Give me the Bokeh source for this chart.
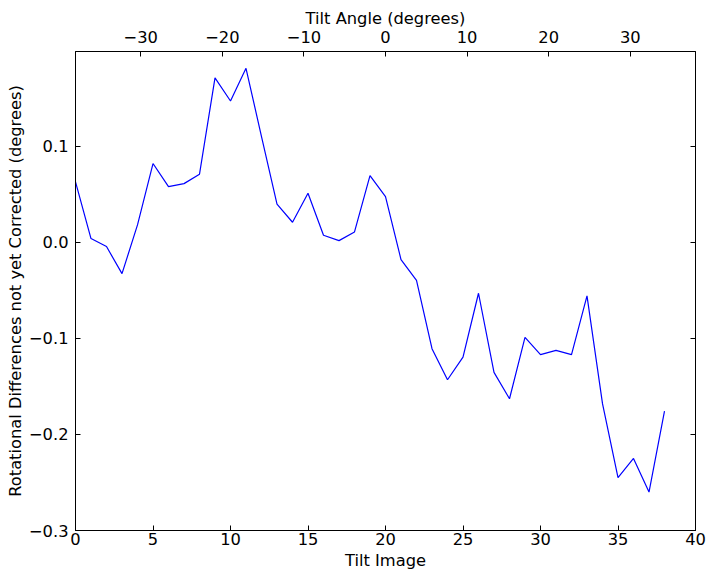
from bokeh.plotting import figure
from bokeh.models import LinearAxis, Range1d, FixedTicker
from bokeh.embed import file_html
from bokeh.resources import INLINE

# Data
tilt_image = list(range(39))
rot_diff = [0.0628, 0.0038, -0.0045, -0.0327, 0.018, 0.0819, 0.0579, 0.061, 0.0708, 0.171,
            0.147, 0.181, 0.110, 0.0396, 0.0208, 0.051, 0.0073, 0.0017, 0.0107, 0.0694,
            0.0475, -0.018, -0.0396, -0.1108, -0.1431, -0.1195, -0.0531, -0.1354, -0.1629, -0.099,
            -0.117, -0.1125, -0.117, -0.0559, -0.168, -0.245, -0.225, -0.260, -0.1757]

x_ticks = [0, 5, 10, 15, 20, 25, 30, 35, 40]
x_tick_labels = ["0", "5", "10", "15", "20", "25", "30", "35", "40"]
y_ticks = [-0.3, -0.2, -0.1, 0.0, 0.1]
y_tick_labels = ["\u22120.3", "\u22120.2", "\u22120.1", "0.0", "0.1"]
angle_ticks = [-30, -20, -10, 0, 10, 20, 30]
angle_tick_labels = ["\u221230", "\u221220", "\u221210", "0", "10", "20", "30"]

FONT = "DejaVu Sans"
FS = "16.3px"

p = figure(width=710, height=575, output_backend="svg", toolbar_location=None,
           x_range=Range1d(0, 40), y_range=Range1d(-0.3, 0.1985),
           min_border_left=75, min_border_right=15, min_border_top=51, min_border_bottom=45,
           x_axis_location=None, y_axis_location=None)
p.extra_x_ranges = {"angle": Range1d(-38, 38)}
p.xgrid.visible = False
p.ygrid.visible = False
p.outline_line_color = "black"
p.outline_line_width = 1
p.background_fill_color = "white"
p.border_fill_color = "white"

p.line(tilt_image, rot_diff, line_color="#0000ff", line_width=1.2)

def style(ax, ticks, labels, label_text=None, show_labels=True, standoff=5, label_standoff=2):
    ax.ticker = FixedTicker(ticks=ticks)
    ax.major_label_overrides = {t: l for t, l in zip(ticks, labels)}
    ax.major_tick_in = 5
    ax.major_tick_out = 0
    ax.minor_tick_in = 0
    ax.minor_tick_out = 0
    ax.major_tick_line_color = "black"
    ax.axis_line_color = "black"
    ax.major_label_text_font = FONT
    ax.major_label_text_font_size = FS
    ax.major_label_text_color = "black" if show_labels else None
    ax.major_label_standoff = standoff
    if label_text:
        ax.axis_label = label_text
        ax.axis_label_text_font = FONT
        ax.axis_label_text_font_size = FS
        ax.axis_label_text_font_style = "normal"
        ax.axis_label_text_color = "black"
        ax.axis_label_standoff = label_standoff

bottom = LinearAxis()
style(bottom, x_ticks, x_tick_labels, "Tilt Image", standoff=2, label_standoff=3)
p.add_layout(bottom, "below")

left = LinearAxis()
style(left, y_ticks, y_tick_labels, "Rotational Differences not yet Corrected (degrees)",
      standoff=7, label_standoff=1)
p.add_layout(left, "left")

right = LinearAxis()
style(right, y_ticks, y_tick_labels, show_labels=False, standoff=0)
p.add_layout(right, "right")

top = LinearAxis(x_range_name="angle")
style(top, angle_ticks, angle_tick_labels, "Tilt Angle (degrees)", standoff=9, label_standoff=0)
p.add_layout(top, "above")

open("out.html", "w").write(file_html(p, INLINE))
